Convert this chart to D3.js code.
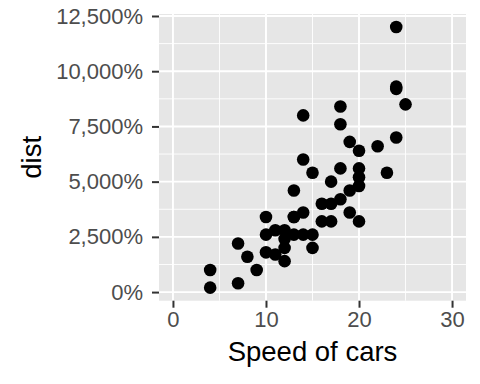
<!DOCTYPE html>
<html>
<head>
<meta charset="utf-8">
<script src="https://cdn.jsdelivr.net/npm/d3@7"></script>
<style>
  body { margin: 0; background: #fff; }
  svg { display: block; font-family: "Liberation Sans", Arial, sans-serif; }
</style>
</head>
<body>
<div id="chart"></div>
<script>
// cars dataset: speed (mph) and stopping distance, shown as percent (dist * 100)
const speed = [4, 4, 7, 7, 8, 9, 10, 10, 10, 11, 11, 12, 12, 12, 12, 13, 13, 13, 13, 14, 14, 14, 14, 15, 15, 15, 16, 16, 17, 17, 17, 18, 18, 18, 18, 19, 19, 19, 20, 20, 20, 20, 20, 22, 23, 24, 24, 24, 24, 25];
const dist = [2, 10, 4, 22, 16, 10, 18, 26, 34, 17, 28, 14, 20, 24, 28, 26, 34, 34, 46, 26, 36, 60, 80, 20, 26, 54, 32, 40, 32, 40, 50, 42, 56, 76, 84, 36, 46, 68, 32, 48, 52, 56, 64, 66, 54, 70, 92, 93, 120, 85];

const xTicks = [0, 10, 20, 30];
const xMinor = [5, 15, 25];
const yTicks = [0, 2500, 5000, 7500, 10000, 12500];
const yMinor = [1250, 3750, 6250, 8750, 11250];
const yTickLabels = ['0%', '2,500%', '5,000%', '7,500%', '10,000%', '12,500%'];
const xTitle = 'Speed of cars';
const yTitle = 'dist';

const W = 480, H = 384;
const panel = { left: 159, right: 466, top: 14, bottom: 300.7 };

const data = speed.map((s, i) => ({ speed: s, pct: dist[i] * 100 }));

// ggplot-style 5% expansion
const xLim = [0, 30];
const xPad = (xLim[1] - xLim[0]) * 0.05;
const x = d3.scaleLinear()
  .domain([xLim[0] - xPad, xLim[1] + xPad])
  .range([panel.left, panel.right]);

const yExt = d3.extent(data, d => d.pct);
const yPad = (yExt[1] - yExt[0]) * 0.05;
const y = d3.scaleLinear()
  .domain([yExt[0] - yPad, yExt[1] + yPad])
  .range([panel.bottom, panel.top]);

const svg = d3.select('#chart').append('svg')
  .attr('width', W)
  .attr('height', H);

svg.append('rect')
  .attr('x', panel.left)
  .attr('y', panel.top)
  .attr('width', panel.right - panel.left)
  .attr('height', panel.bottom - panel.top)
  .attr('fill', '#E6E6E6');

const grid = svg.append('g');
// minor grid
grid.selectAll('.xminor').data(xMinor).enter().append('line')
  .attr('x1', d => x(d)).attr('x2', d => x(d))
  .attr('y1', panel.top).attr('y2', panel.bottom)
  .attr('stroke', '#fff').attr('stroke-width', 0.9);
grid.selectAll('.yminor').data(yMinor).enter().append('line')
  .attr('y1', d => y(d)).attr('y2', d => y(d))
  .attr('x1', panel.left).attr('x2', panel.right)
  .attr('stroke', '#fff').attr('stroke-width', 0.9);
// major grid
grid.selectAll('.xmajor').data(xTicks).enter().append('line')
  .attr('x1', d => x(d)).attr('x2', d => x(d))
  .attr('y1', panel.top).attr('y2', panel.bottom)
  .attr('stroke', '#fff').attr('stroke-width', 1.9);
grid.selectAll('.ymajor').data(yTicks.filter(d => y(d) >= panel.top)).enter().append('line')
  .attr('y1', d => y(d)).attr('y2', d => y(d))
  .attr('x1', panel.left).attr('x2', panel.right)
  .attr('stroke', '#fff').attr('stroke-width', 1.9);

// points
svg.selectAll('.pt')
  .data(data)
  .enter().append('circle')
  .attr('class', 'pt')
  .attr('cx', d => x(d.speed))
  .attr('cy', d => y(d.pct))
  .attr('r', 6.3)
  .attr('fill', '#000');

// x axis
const xAxis = svg.append('g')
  .attr('transform', `translate(0,${panel.bottom})`)
  .call(d3.axisBottom(x).tickValues(xTicks).tickSize(7).tickPadding(4));
// y axis
const yAxis = svg.append('g')
  .attr('transform', `translate(${panel.left},0)`)
  .call(d3.axisLeft(y).tickValues(yTicks).tickSize(7).tickPadding(9)
    .tickFormat((d, i) => yTickLabels[i]));

[xAxis, yAxis].forEach(ax => {
  ax.select('.domain').remove();
  ax.selectAll('.tick line').attr('stroke', '#333333').attr('stroke-width', 2);
  ax.selectAll('.tick text')
    .attr('fill', '#4D4D4D')
    .style('font-size', '22px')
    .style('font-family', '"Liberation Sans", Arial, sans-serif');
});

svg.append('text')
  .attr('x', (panel.left + panel.right) / 2)
  .attr('y', 361)
  .attr('text-anchor', 'middle')
  .style('font-size', '27.5px')
  .attr('fill', '#000')
  .text(xTitle);

svg.append('text')
  .attr('transform', `translate(41,${(panel.top + panel.bottom) / 2}) rotate(-90)`)
  .attr('text-anchor', 'middle')
  .style('font-size', '27.5px')
  .attr('fill', '#000')
  .text(yTitle);
</script>
</body>
</html>
